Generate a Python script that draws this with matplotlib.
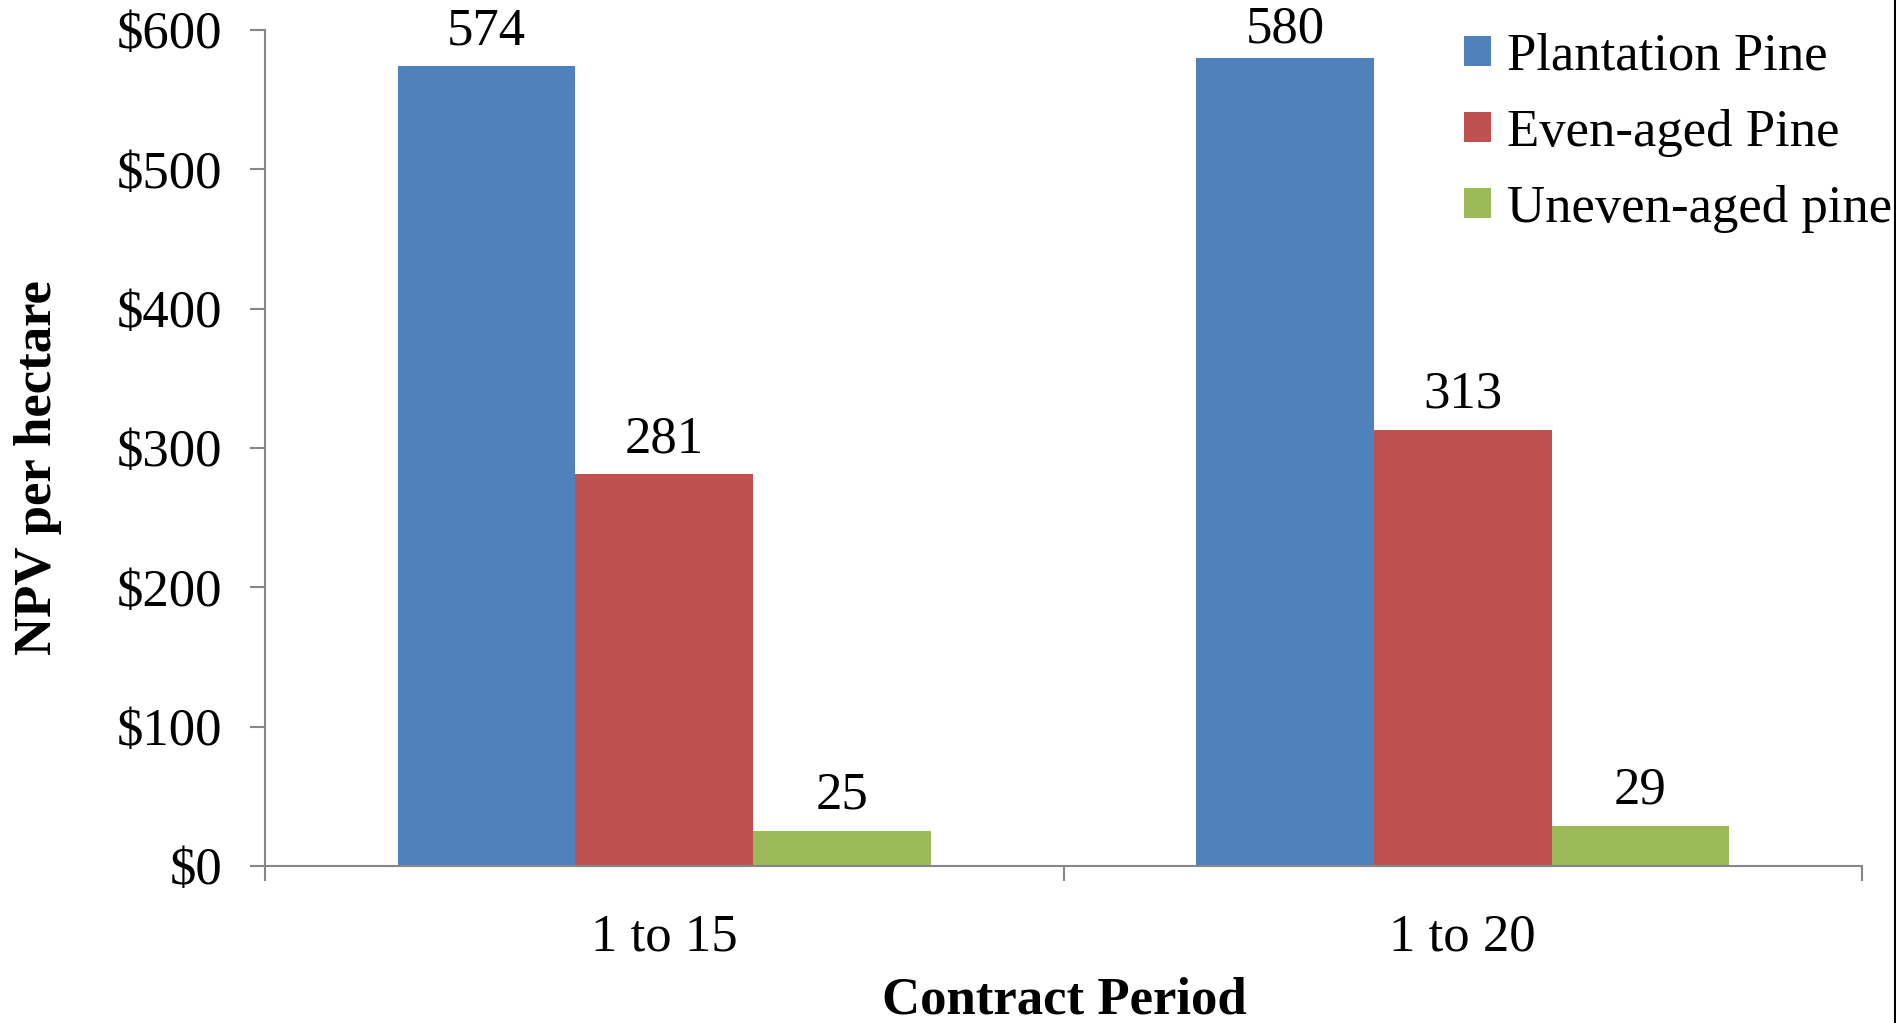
import numpy as np
import matplotlib
matplotlib.use("Agg")
from matplotlib import pyplot as plt
from matplotlib.lines import Line2D

periods = ["1 to 15", "1 to 20"]
series = ["Plantation Pine", "Even-aged Pine", "Uneven-aged pine"]
plantation = [574, 580]
even_aged = [281, 313]
uneven_aged = [25, 29]
colors = ["#4F81BD", "#C0504D", "#9BBB59"]
yticks = [0, 100, 200, 300, 400, 500, 600]

plt.rcParams['font.family'] = ['Liberation Serif', 'DejaVu Serif']
axis_grey = "#868686"

fig = plt.figure(figsize=(18.96, 10.23), dpi=100)
ax = fig.add_axes([265/1896, 1-866/1023, (1862-265)/1896, (866-30)/1023])

x = np.arange(len(periods))
w = 0.2225
for i, (name, vals) in enumerate(zip(series, [plantation, even_aged, uneven_aged])):
    bars = ax.bar(x + (i-1)*w, vals, w, color=colors[i], label=name, linewidth=0)
    for b, v in zip(bars, vals):
        # keep labels near the top of the plot from running off the figure
        off = 16 if v < 578 else 11
        ax.annotate(str(v), (b.get_x() + b.get_width()/2, v), xytext=(0, off),
                    textcoords="offset points", ha="center", va="baseline", fontsize=38)

ax.set_xlim(-0.5, 1.5)
ax.set_ylim(0, 600)
ax.set_yticks(yticks)
ax.set_yticklabels(["$%d" % t for t in yticks])
ax.set_xticks(x)
ax.set_xticklabels(periods)
ax.set_xticks([-0.5, 0.5, 1.5], minor=True)

for s in ["top", "right"]:
    ax.spines[s].set_visible(False)
for s in ["left", "bottom"]:
    ax.spines[s].set_color(axis_grey)
    ax.spines[s].set_linewidth(1.5)

ax.tick_params(axis="y", which="major", length=11, width=1.5, color=axis_grey,
               labelsize=38, pad=20)
ax.tick_params(axis="x", which="major", length=0, labelsize=38, pad=34)
ax.tick_params(axis="x", which="minor", length=11, width=1.5, color=axis_grey)

fig.text(880*1.209/1896, 1-1001/1023, "Contract Period", ha="center", va="center",
         fontsize=38, fontweight="bold")
fig.text(38/1896, 1-(387*1.209)/1023, "NPV per hectare", ha="center", va="center",
         rotation=90, fontsize=38, fontweight="bold")

ax.legend(loc="upper left", bbox_to_anchor=(1464/1896, 1-33/1023),
          bbox_transform=fig.transFigure, frameon=False, fontsize=38,
          handlelength=0.51, handleheight=0.51, handletextpad=0.3,
          labelspacing=0.53, borderpad=0, borderaxespad=0)

# thin border on the right edge
fig.add_artist(Line2D([1894.5/1896]*2, [0, 1], transform=fig.transFigure,
                      color="black", linewidth=1.5))

fig.savefig("out.png", dpi=100)
